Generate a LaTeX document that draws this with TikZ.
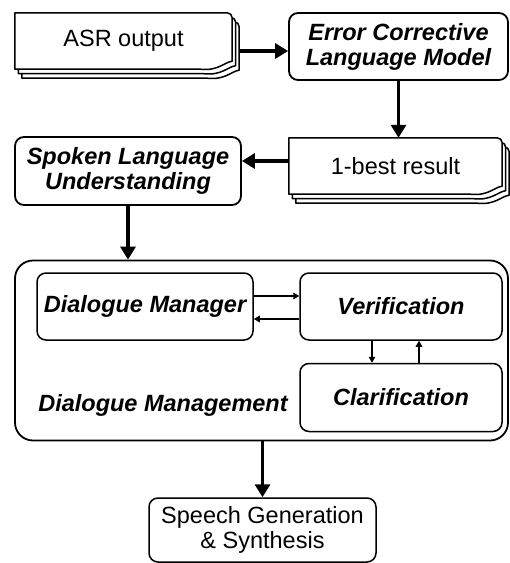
\documentclass[tikz,border=0pt]{standalone}
\usepackage{fontspec}
\setmainfont{Liberation Sans}
\usetikzlibrary{calc,arrows.meta,backgrounds}

\tikzset{
  lbl/.style={font=\fontsize{23.5}{25}\selectfont, align=center, inner sep=0pt},
  bi/.style={lbl, font=\fontsize{23.5}{25}\selectfont\bfseries\itshape},
  outer/.style={draw, line width=1.8pt, rounded corners=9pt},
  inner/.style={draw, line width=1.5pt, rounded corners=9pt},
  sheetline/.style={draw, line width=1.5pt, fill=white, line join=round},
  bigarrow/.style={line width=3.6pt, -{Triangle[length=13pt,width=15pt]}},
  smallarrow/.style={line width=1.2pt, -{Triangle[length=6pt,width=6.5pt]}},
}

% one paper of a stacked-documents shape, shifted by (#2,#3) from node #1
\newcommand\paperlayer[3]{%
  \path[sheetline]
    ($(#1.north west)+(#2,#3)$) -- ($(#1.north east)+(#2-5,#3)$)
    to[out=0,in=90] ($(#1.north east)+(#2,#3+5)$)
    -- ($(#1.south east)+(#2,#3-8)$)
    .. controls ($(#1.south east)+(#2-8,#3-7)$) and ($(#1.south east)+(#2-14,#3+2)$) ..
    ($(#1.south east)+(#2-32,#3)$)
    -- ($(#1.south west)+(#2,#3)$) -- cycle;}
\newcommand\paperstack[1]{%
  \begin{pgfonlayer}{background}
    \paperlayer{#1}{7}{9}
    \paperlayer{#1}{3.5}{4.5}
    \paperlayer{#1}{0}{0}
  \end{pgfonlayer}}

\begin{document}
\begin{tikzpicture}[x=1pt,y=-1pt]
\useasboundingbox (0,0) rectangle (510,563);

% pipeline boxes
\node[lbl, minimum width=217pt, minimum height=56pt] (asr) at (123.5,41) {ASR output};
\paperstack{asr}
\node[bi, outer, minimum width=219pt, minimum height=67pt] (eclm) at (398.5,46.5)
  {Error Corrective\\Language Model};
\node[lbl, minimum width=213pt, minimum height=56pt] (best) at (395.5,166) {1-best result};
\paperstack{best}
\node[bi, outer, minimum width=226pt, minimum height=68pt] (slu) at (128,171)
  {Spoken Language\\Understanding};

% dialogue management block
\node[draw, line width=1.8pt, rounded corners=18pt, minimum width=493pt, minimum height=180pt]
  (dmg) at (261.5,350.5) {};
\node[bi, inner, minimum width=216pt, minimum height=67pt] (dm) at (145,306.5) {Dialogue Manager};
\node[bi, inner, minimum width=202pt, minimum height=67pt] (ver) at (401,306.5) {Verification};
\node[bi, inner, minimum width=202pt, minimum height=68pt] (clar) at (401,397.5) {Clarification};
\node[bi] (dmlabel) at (163,405) {Dialogue Management};

\node[lbl, draw, line width=1.5pt, rounded corners=9pt, minimum width=227pt, minimum height=64pt]
  (sgs) at (262.5,530) {Speech Generation\\\& Synthesis};

% main flow
\coordinate (a1) at ($(asr.east)+(8,10)$);
\draw[bigarrow] (a1) -- (eclm.west |- a1);
\draw[bigarrow] (eclm.south) -- (eclm.south |- best.north);
\coordinate (a2) at ($(best.west)+(0,-5)$);
\draw[bigarrow] (a2) -- (slu.east |- a2);
\draw[bigarrow] (slu.south) -- (slu.south |- dmg.north);
\draw[bigarrow] (dmg.south -| sgs.north) -- (sgs.north);

% inner exchanges
\coordinate (m1) at ($(dm.east)+(0,-10.5)$);
\coordinate (m2) at ($(dm.east)+(0,12.5)$);
\draw[smallarrow] (m1) -- (ver.west |- m1);
\draw[smallarrow] (ver.west |- m2) -- (m2);
\coordinate (v1) at ($(ver.south)+(-29,0)$);
\coordinate (v2) at ($(ver.south)+(18,0)$);
\draw[smallarrow] (v1) -- (clar.north -| v1);
\draw[smallarrow] (clar.north -| v2) -- (v2);
\end{tikzpicture}
\end{document}
